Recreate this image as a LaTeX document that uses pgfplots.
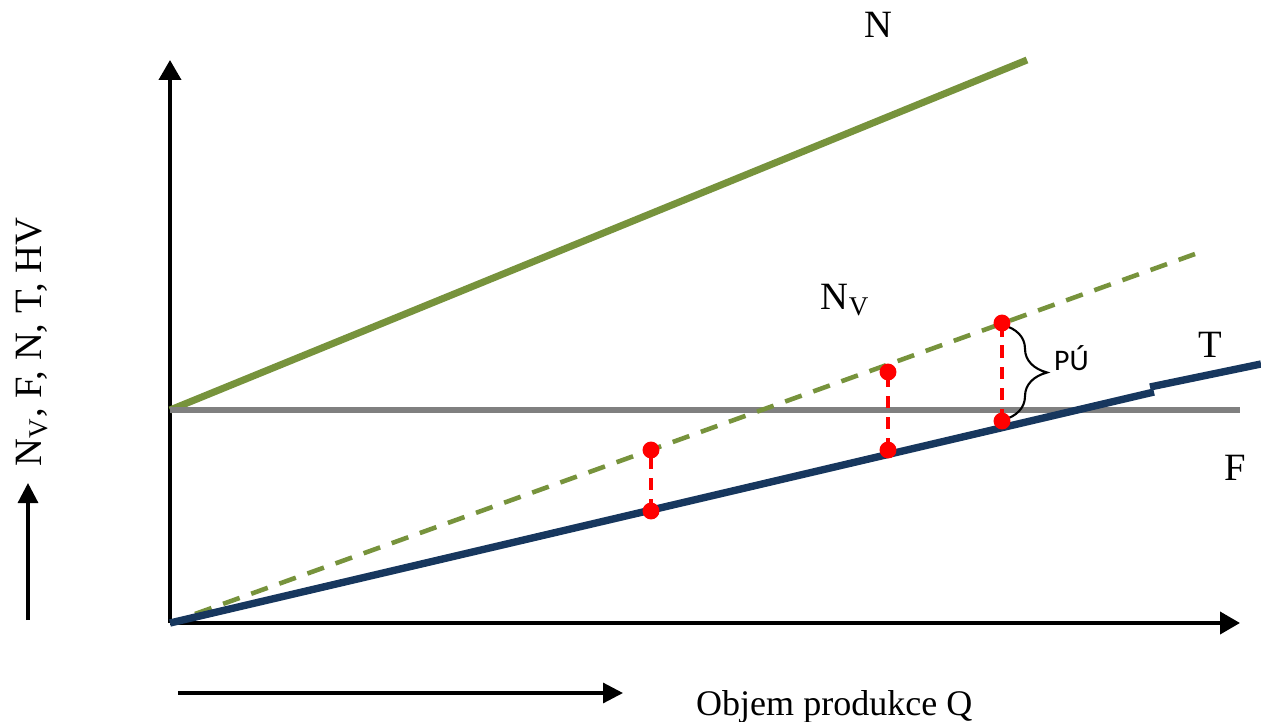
\documentclass[border=0pt]{standalone}
\usepackage{pgfplots}
\pgfplotsset{compat=1.18}
\usepackage{fontspec}
\setmainfont{Liberation Serif}
\newfontfamily\calibri{Carlito}
\usetikzlibrary{arrows.meta,decorations.pathreplacing}

\definecolor{olivegreen}{RGB}{119,147,60}
\definecolor{navyline}{RGB}{23,55,94}
\definecolor{fixgray}{RGB}{128,128,128}

\begin{document}
\begin{tikzpicture}
  \begin{axis}[
    x=0.02cm, y=0.02cm,
    xmin=0, xmax=1070,
    ymin=0, ymax=563,
    axis lines=left,
    axis line style={line width=2.2pt, -{Triangle[length=0.4cm,width=0.44cm]}},
    xtick=\empty, ytick=\empty,
    clip=false,
  ]

  % N (trzby) - plna zelena
  \addplot[olivegreen, line width=4pt] coordinates {(0,213) (857,563)};

  % F (fixni naklady) - seda
  \addplot[fixgray, line width=3.2pt] coordinates {(0,213) (1070,213)};

  % Nv (variabilni naklady) - carkovana zelena
  \addplot[olivegreen, line width=2.6pt, dash pattern=on 10pt off 7pt]
    coordinates {(25,9) (1025,369)};

  % T (celkove naklady) - tmave modra, s malym skokem
  \addplot[navyline, line width=4.2pt] coordinates {(0,0) (984,231)};
  \addplot[navyline, line width=4.2pt] coordinates {(980,236) (1091,259)};

  % cervene useky
  \addplot[red, line width=2pt, dash pattern=on 7pt off 5pt,
    mark=*, mark size=3.8pt, mark options={solid}]
    coordinates {(481,112) (481,173)};
  \addplot[red, line width=2pt, dash pattern=on 7pt off 5pt,
    mark=*, mark size=3.8pt, mark options={solid}]
    coordinates {(718,173) (718,251)};
  \addplot[red, line width=2pt, dash pattern=on 7pt off 5pt,
    mark=*, mark size=3.8pt, mark options={solid}]
    coordinates {(832,202) (832,300)};

  % slozena zavorka PU
  \draw[line width=1.2pt, decorate, decoration={brace, amplitude=0.88cm}]
    (axis cs:833,298) -- (axis cs:833,203);
  \node[anchor=west, font=\calibri\fontsize{17}{20}\selectfont]
    at (axis cs:878,265) {PÚ};

  % popisky
  \begin{scope}[font=\fontsize{22}{26}\selectfont]
    \node at (axis cs:708,598) {N};
    \node at (axis cs:675,323) {N\textsubscript{V}};
    \node at (axis cs:1040,278) {T};
    \node at (axis cs:1065,155) {F};
    \node[rotate=90] at (axis cs:-138,281) {N\textsubscript{V}, F, N, T, HV};
  \end{scope}
  \node[anchor=base west, font=\fontsize{20.5}{24}\selectfont]
    at (axis cs:520,-92) {Objem produkce Q};

  \draw[line width=1.8pt, -{Triangle[length=0.4cm,width=0.4cm]}]
    (axis cs:-142,3) -- (axis cs:-142,140);
  \draw[line width=1.8pt, -{Triangle[length=0.4cm,width=0.4cm]}]
    (axis cs:8,-70) -- (axis cs:453,-70);

  \coordinate (bl) at (axis cs:-170,-98);
  \coordinate (tr) at (axis cs:1091,623);
  \end{axis}
  \pgfresetboundingbox
  \path (bl) rectangle (tr);
\end{tikzpicture}
\end{document}
